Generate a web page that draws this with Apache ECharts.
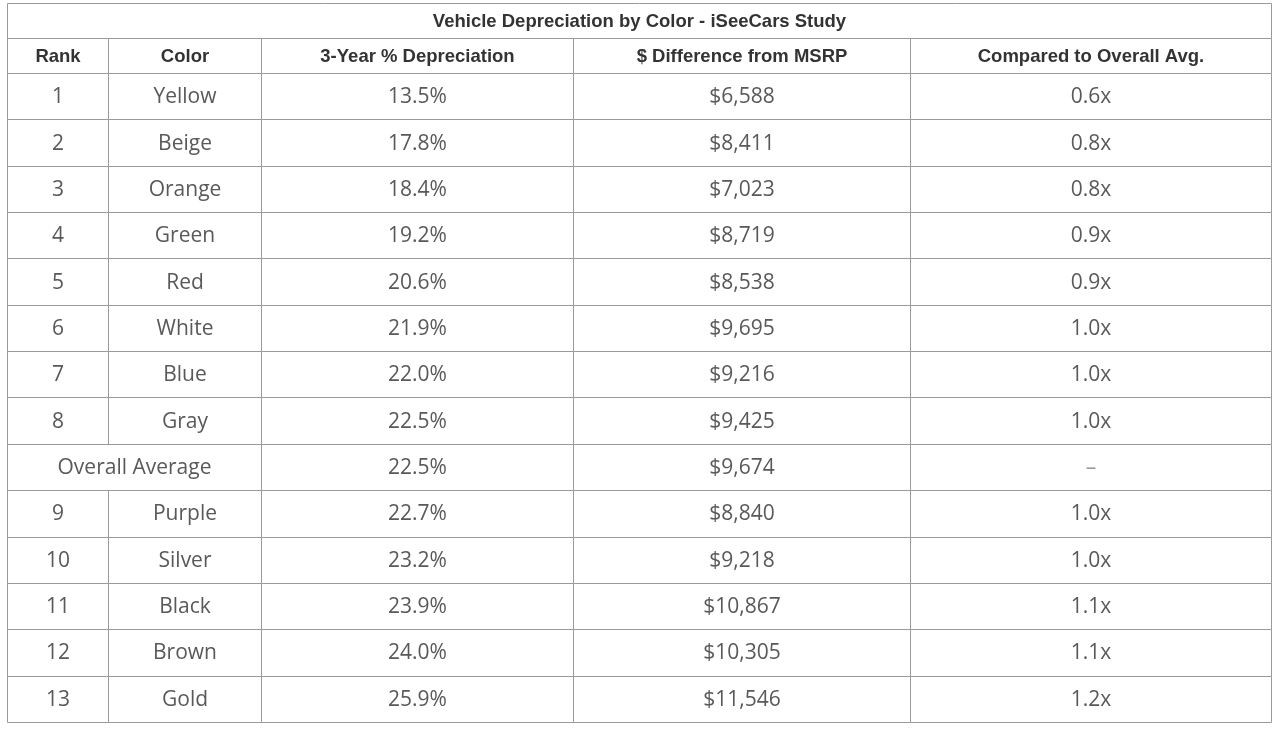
<!DOCTYPE html>
<html>
<head>
<meta charset="utf-8">
<title>Vehicle Depreciation by Color</title>
<script src="https://cdn.jsdelivr.net/npm/echarts@6/dist/echarts.min.js"></script>
<style>
  html, body { margin: 0; padding: 0; background: #fff; }
  #chart { width: 1280px; height: 733px; }
</style>
</head>
<body>
<div id="chart"></div>
<script>
// table data
const tableTitle = 'Vehicle Depreciation by Color - iSeeCars Study'
const headers = ['Rank', 'Color', '3-Year % Depreciation', '$ Difference from MSRP', 'Compared to Overall Avg.']
const ranks = [1, 2, 3, 4, 5, 6, 7, 8, null, 9, 10, 11, 12, 13]
const colorNames = ['Yellow', 'Beige', 'Orange', 'Green', 'Red', 'White', 'Blue', 'Gray',
  'Overall Average', 'Purple', 'Silver', 'Black', 'Brown', 'Gold']
const depreciation = [13.5, 17.8, 18.4, 19.2, 20.6, 21.9, 22.0, 22.5, 22.5, 22.7, 23.2, 23.9, 24.0, 25.9]
const msrpDiff = [6588, 8411, 7023, 8719, 8538, 9695, 9216, 9425, 9674, 8840, 9218, 10867, 10305, 11546]
const vsAverage = [0.6, 0.8, 0.8, 0.9, 0.9, 1.0, 1.0, 1.0, null, 1.0, 1.0, 1.1, 1.1, 1.2]

// column edges in table units (layout, not data)
const colEdges = [0, 101, 254, 566, 903, 1264]

const lineColor = '#9a9a9a'
const bodyFont = { fontFamily: '"Open Sans", sans-serif', fontSize: 21, fill: '#595959' }
const headFont = { fontFamily: '"Liberation Sans", Arial, sans-serif', fontSize: 18.5, fontWeight: 'bold', fill: '#333' }

function bodyCells (i) {
  const dep = depreciation[i].toFixed(1) + '%'
  const diff = '$' + msrpDiff[i].toLocaleString('en-US')
  const vs = vsAverage[i] == null ? '–' : vsAverage[i].toFixed(1) + 'x'
  if (ranks[i] == null) {
    return [[0, 2, colorNames[i]], [2, 3, dep], [3, 4, diff], [4, 5, vs]]
  }
  return [[0, 1, String(ranks[i])], [1, 2, colorNames[i]], [2, 3, dep], [3, 4, diff], [4, 5, vs]]
}

function headCells (i) {
  if (i === 0) return [[0, 5, tableTitle]]
  return headers.map((h, c) => [c, c + 1, h])
}

function makeRender (cellsFor, font) {
  return function (params, api) {
    const i = params.dataIndex
    const h = api.size([0, 1])[1]
    const children = []
    cellsFor(i).forEach(function (cell) {
      const p0 = api.coord([colEdges[cell[0]], i])
      const p1 = api.coord([colEdges[cell[1]], i])
      const x0 = Math.round(p0[0]) + 0.5
      const x1 = Math.round(p1[0]) + 0.5
      const y0 = Math.round(p0[1] - h / 2) + 0.5
      const y1 = Math.round(p0[1] + h / 2) + 0.5
      children.push({
        type: 'rect',
        shape: { x: x0, y: y0, width: x1 - x0, height: y1 - y0 },
        style: { fill: '#fff', stroke: lineColor, lineWidth: 1 }
      })
      children.push({
        type: 'text',
        style: Object.assign({
          x: (x0 + x1) / 2,
          y: p0[1] + 1,
          text: cell[2],
          align: 'center',
          verticalAlign: 'middle'
        }, font, cell[2] === '–' ? { fill: '#999' } : {})
      })
    })
    return { type: 'group', children: children }
  }
}

const chart = echarts.init(document.getElementById('chart'), null, { renderer: 'canvas' })

const hiddenAxis = {
  axisLine: { show: false },
  axisTick: { show: false },
  axisLabel: { show: false },
  splitLine: { show: false }
}

chart.setOption({
  backgroundColor: '#fff',
  animation: false,
  grid: [
    { left: 7, width: 1264, top: 3, height: 70 },
    { left: 7, width: 1264, top: 73, height: 649 }
  ],
  xAxis: [
    Object.assign({ type: 'value', gridIndex: 0, min: 0, max: 1264 }, hiddenAxis),
    Object.assign({ type: 'value', gridIndex: 1, min: 0, max: 1264 }, hiddenAxis)
  ],
  yAxis: [
    Object.assign({ type: 'category', gridIndex: 0, inverse: true, data: ['title', 'header'] }, hiddenAxis),
    Object.assign({ type: 'category', gridIndex: 1, inverse: true, data: colorNames }, hiddenAxis)
  ],
  series: [
    {
      type: 'custom',
      xAxisIndex: 0,
      yAxisIndex: 0,
      renderItem: makeRender(headCells, headFont),
      encode: { y: 0 },
      data: [[0], [1]]
    },
    {
      type: 'custom',
      xAxisIndex: 1,
      yAxisIndex: 1,
      renderItem: makeRender(bodyCells, bodyFont),
      encode: { y: 0 },
      data: colorNames.map((c, i) => [i])
    }
  ]
})
</script>
</body>
</html>
